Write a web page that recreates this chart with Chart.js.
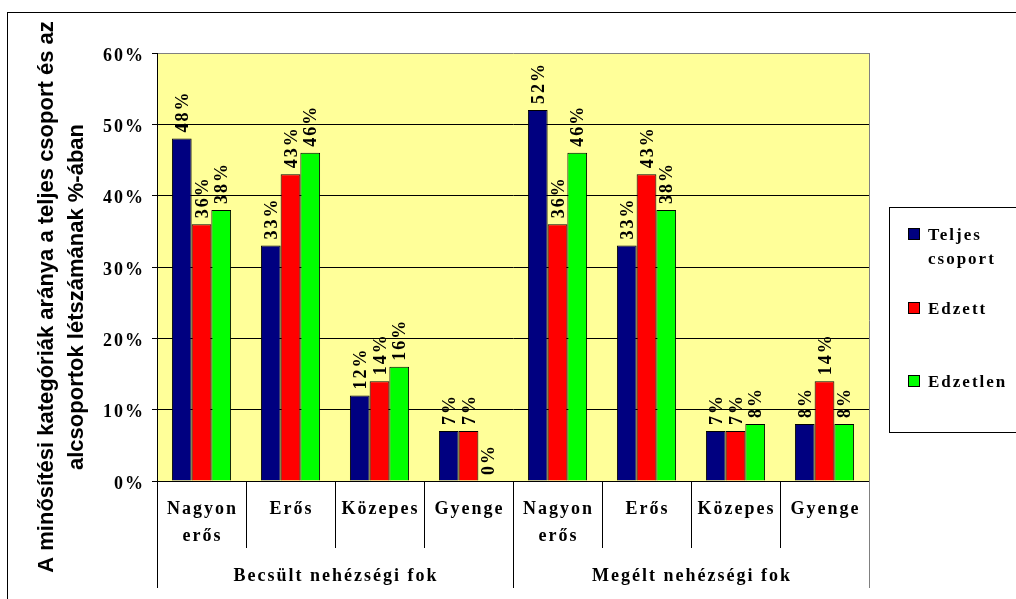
<!DOCTYPE html>
<html>
<head>
<meta charset="utf-8">
<script src="https://cdn.jsdelivr.net/npm/chart.js@4"></script>
<style>
  html, body { margin: 0; padding: 0; background: #fff; }
  canvas { display: block; }
</style>
</head>
<body>
<canvas id="nehezsegChart" width="1016" height="599"></canvas>
<script>
// Adatok
const kategoriak = [['Nagyon', 'erős'], ['Erős'], ['Közepes'], ['Gyenge'], ['Nagyon', 'erős'], ['Erős'], ['Közepes'], ['Gyenge']];
const csoportok = ['Becsült nehézségi fok', 'Megélt nehézségi fok'];
const teljesCsoport = [48, 33, 12, 7, 52, 33, 7, 8];
const edzett = [36, 43, 14, 7, 36, 43, 7, 14];
const edzetlen = [38, 46, 16, 0, 46, 38, 8, 8];
const sorozatNevek = [['Teljes', 'csoport'], ['Edzett'], ['Edzetlen']];
const yTengelyCim = ['A minősítési kategóriák aránya a teljes csoport és az', 'alcsoportok létszámának %-ában'];
const yMax = 60;
const yLepes = 10;

const SERIF = "'Liberation Serif', 'Times New Roman', serif";
const SANS = "'Liberation Sans', Arial, sans-serif";
const szinek = ['#000080', '#FF0000', '#00FF00'];

// Háttér, sárga rajzterület, külső keret
const hatterPlugin = {
    id: 'hatter',
    beforeDraw(chart) {
        const { ctx, chartArea: a } = chart;
        ctx.save();
        ctx.fillStyle = '#fff';
        ctx.fillRect(0, 0, chart.width, chart.height);
        ctx.fillStyle = '#FFFF99';
        ctx.fillRect(a.left, a.top, a.right - a.left, a.bottom - a.top);
        ctx.strokeStyle = '#000';
        ctx.lineWidth = 1;
        ctx.strokeRect(7.5, 12.5, chart.width + 20, chart.height + 20);
        ctx.restore();
        ctx.letterSpacing = '2px';
    }
};

// Függőleges értékcímkék az oszlopok fölött
const ertekCimkePlugin = {
    id: 'ertekCimkek',
    afterDatasetsDraw(chart) {
        const ctx = chart.ctx;
        ctx.save();
        ctx.letterSpacing = '2px';
        ctx.font = 'bold 18px ' + SERIF;
        ctx.fillStyle = '#000';
        ctx.textAlign = 'left';
        ctx.textBaseline = 'alphabetic';
        chart.data.datasets.forEach((ds, i) => {
            chart.getDatasetMeta(i).data.forEach((bar, j) => {
                ctx.save();
                ctx.translate(bar.x + 6, bar.y - 6);
                ctx.rotate(-Math.PI / 2);
                ctx.fillText(ds.data[j] + '%', 0, 0);
                ctx.restore();
            });
        });
        ctx.restore();
    }
};

// Kétszintű x tengely, jelmagyarázat, y tengely címe
const tengelyPlugin = {
    id: 'tengelyek',
    afterDraw(chart) {
        const { ctx, chartArea: a, scales } = chart;
        const x = scales.x;
        const n = chart.data.labels.length;
        const csoportMeret = n / csoportok.length;

        ctx.save();
        ctx.lineWidth = 1;
        for (let i = 0; i <= n; i++) {
            const px = Math.round(x.getPixelForValue(i - 0.5)) + 0.5;
            const csoportHatar = i % csoportMeret === 0;
            ctx.strokeStyle = i === n ? '#808080' : '#000';
            ctx.beginPath();
            ctx.moveTo(px, i === n ? a.top : a.bottom);
            ctx.lineTo(px, a.bottom + (csoportHatar ? 107 : 67));
            ctx.stroke();
        }

        ctx.letterSpacing = '2px';
        ctx.font = 'bold 18px ' + SERIF;
        ctx.fillStyle = '#000';
        ctx.textAlign = 'center';
        ctx.textBaseline = 'alphabetic';
        chart.data.labels.forEach((cimke, i) => {
            const px = x.getPixelForValue(i) + 1;
            cimke.forEach((sor, k) => ctx.fillText(sor, px, a.bottom + 33 + k * 27));
        });
        csoportok.forEach((cs, g) => {
            const bal = x.getPixelForValue(g * csoportMeret - 0.5);
            const jobb = x.getPixelForValue((g + 1) * csoportMeret - 0.5);
            ctx.fillText(cs, (bal + jobb) / 2 + 1, a.bottom + 100);
        });

        // jelmagyarázat
        ctx.strokeStyle = '#000';
        ctx.strokeRect(889.5, 207.5, 200, 225);
        ctx.font = 'bold 17px ' + SERIF;
        ctx.textAlign = 'left';
        const alapvonalak = [240, 314, 387];
        sorozatNevek.forEach((nev, i) => {
            const y0 = alapvonalak[i];
            ctx.fillStyle = szinek[i];
            ctx.fillRect(908, y0 - 12, 12, 12);
            ctx.strokeRect(908.5, y0 - 11.5, 11, 11);
            ctx.fillStyle = '#000';
            nev.forEach((sor, k) => ctx.fillText(sor, 928, y0 + k * 24));
        });

        // y tengely címe
        ctx.letterSpacing = '0px';
        ctx.font = 'bold 22px ' + SANS;
        ctx.textAlign = 'center';
        ctx.translate(0, 297);
        ctx.rotate(-Math.PI / 2);
        yTengelyCim.forEach((sor, i) => ctx.fillText(sor, 0, 53 + i * 30));
        ctx.restore();
    }
};

new Chart(document.getElementById('nehezsegChart'), {
    type: 'bar',
    data: {
        labels: kategoriak,
        datasets: [
            { label: sorozatNevek[0].join(' '), data: teljesCsoport, backgroundColor: szinek[0] },
            { label: sorozatNevek[1].join(' '), data: edzett, backgroundColor: szinek[1] },
            { label: sorozatNevek[2].join(' '), data: edzetlen, backgroundColor: szinek[2] }
        ]
    },
    options: {
        responsive: false,
        animation: false,
        devicePixelRatio: 1,
        layout: { padding: { left: 0, top: 53, right: 147, bottom: 118 } },
        datasets: {
            bar: {
                borderColor: '#000',
                borderWidth: 1,
                categoryPercentage: 0.665,
                barPercentage: 1
            }
        },
        plugins: {
            legend: { display: false },
            tooltip: { enabled: false }
        },
        scales: {
            x: {
                grid: { display: false },
                ticks: { display: false },
                border: { display: true, color: '#000', width: 1 },
                afterFit(scale) { scale.height = 0; }
            },
            y: {
                min: 0,
                max: yMax,
                ticks: {
                    stepSize: yLepes,
                    color: '#000',
                    padding: 7,
                    labelOffset: 3,
                    font: { family: SERIF, size: 18, weight: 'bold' },
                    callback: v => v + '%'
                },
                grid: {
                    color: c => (c.tick && c.tick.value === yMax ? '#808080' : '#000'),
                    tickColor: '#000',
                    tickLength: 5,
                    lineWidth: 1
                },
                border: { display: true, color: '#000', width: 1 },
                afterFit(scale) { scale.width = 157; }
            }
        }
    },
    plugins: [hatterPlugin, ertekCimkePlugin, tengelyPlugin]
});
</script>
</body>
</html>
